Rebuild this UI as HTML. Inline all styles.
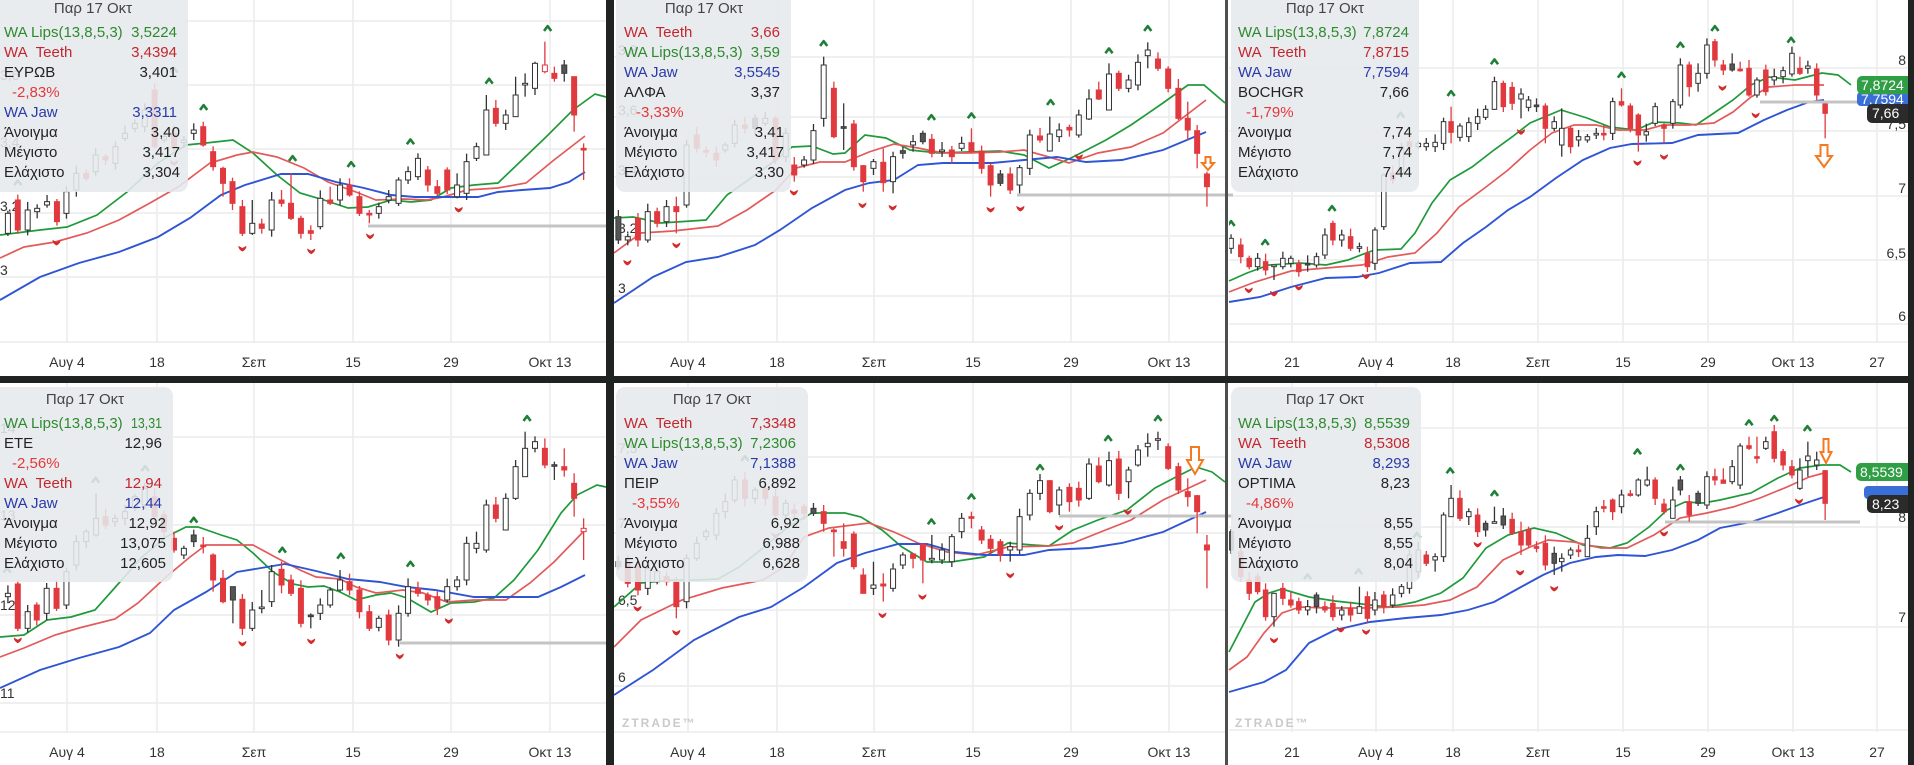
<!DOCTYPE html>
<html>
<head>
<meta charset="utf-8">
<style>
html,body{margin:0;padding:0;background:#fff;}
svg{display:block;}
text{font-family:"Liberation Sans","DejaVu Sans",sans-serif;}
.ax{font-size:14px;fill:#333;}
.lg{font-size:15px;}
.g{fill:#2f8a2f;} .r{fill:#c4262e;} .b{fill:#2a3aa8;} .k{fill:#222;} .p{fill:#e5383b;}
.grid{stroke:#ececec;stroke-width:1.5;fill:none;}
.lips{stroke:#1f9a3a;stroke-width:1.7;fill:none;}
.teeth{stroke:#e25a5a;stroke-width:1.7;fill:none;}
.jaw{stroke:#2f55d4;stroke-width:1.9;fill:none;}
.lvl{stroke:#c4c4c4;stroke-width:3;fill:none;}
.box{fill:#e6e9ed;opacity:0.88;}
.tag{font-size:14px;fill:#fff;}
.wm{font-size:12px;fill:#cacaca;font-weight:bold;letter-spacing:2px;}
.arr{fill:#fff;stroke:#f47a20;stroke-width:2;}
</style>
</head>
<body>
<svg id="s" width="1914" height="765" viewBox="0 0 1914 765" xmlns="http://www.w3.org/2000/svg">
<defs>
<clipPath id="cp0"><rect x="0" y="0" width="606" height="342"/></clipPath>
<clipPath id="cp1"><rect x="614" y="0" width="611" height="342"/></clipPath>
<clipPath id="cp2"><rect x="1229" y="0" width="679" height="342"/></clipPath>
<clipPath id="cp3"><rect x="0" y="383" width="606" height="349"/></clipPath>
<clipPath id="cp4"><rect x="614" y="383" width="611" height="349"/></clipPath>
<clipPath id="cp5"><rect x="1229" y="383" width="679" height="349"/></clipPath>
</defs>
<rect x="0" y="0" width="1914" height="765" fill="#fff"/>

<!-- GRID -->
<g class="grid">
<path d="M0 21H606M0 85H606M0 149H606M0 213H606M0 277H606M0 342H606"/>
<path d="M67 0V342M157 0V342M254 0V342M353 0V342M451 0V342M550 0V342"/>
<path d="M614 57H1225M614 117H1225M614 177H1225M614 236H1225M614 296H1225M614 342H1225"/>
<path d="M688 0V342M777 0V342M874 0V342M973 0V342M1071 0V342M1169 0V342"/>
<path d="M1229 68H1908M1229 131H1908M1229 196H1908M1229 260H1908M1229 324H1908M1229 342H1908"/>
<path d="M1292 0V342M1376 0V342M1453 0V342M1538 0V342M1623 0V342M1708 0V342M1793 0V342M1877 0V342"/>
<path d="M0 437H606M0 525H606M0 615H606M0 703H606M0 732H606"/>
<path d="M67 383V732M157 383V732M254 383V732M353 383V732M451 383V732M550 383V732"/>
<path d="M614 457H1225M614 533H1225M614 610H1225M614 686H1225M614 732H1225"/>
<path d="M688 383V732M777 383V732M874 383V732M973 383V732M1071 383V732M1169 383V732"/>
<path d="M1229 428H1908M1229 527H1908M1229 627H1908M1229 730H1908"/>
<path d="M1292 383V732M1376 383V732M1453 383V732M1538 383V732M1623 383V732M1708 383V732M1793 383V732M1877 383V732"/>
</g>

<!-- Y AXIS LABELS -->
<g class="ax">
<text x="0" y="80">3,6</text><text x="0" y="147">3,4</text><text x="0" y="211">3,2</text><text x="0" y="275">3</text>
<text x="618" y="55">3,8</text><text x="618" y="115">3,6</text><text x="618" y="175">3,4</text><text x="618" y="233">3,2</text><text x="618" y="293">3</text>
<text x="1906" y="65" text-anchor="end">8</text><text x="1906" y="129" text-anchor="end">7,5</text><text x="1906" y="193" text-anchor="end">7</text><text x="1906" y="258" text-anchor="end">6,5</text><text x="1906" y="321" text-anchor="end">6</text>
<text x="0" y="433">14</text><text x="0" y="520">13</text><text x="0" y="610">12</text><text x="0" y="698">11</text>
<text x="618" y="453">7,5</text><text x="618" y="528">7</text><text x="618" y="605">6,5</text><text x="618" y="682">6</text>
<text x="1906" y="522" text-anchor="end">8</text><text x="1906" y="622" text-anchor="end">7</text>
</g>

<!-- X AXIS LABELS -->
<g class="ax" text-anchor="middle">
<text x="67" y="367">Αυγ 4</text><text x="157" y="367">18</text><text x="254" y="367">Σεπ</text><text x="353" y="367">15</text><text x="451" y="367">29</text><text x="550" y="367">Οκτ 13</text>
<text x="688" y="367">Αυγ 4</text><text x="777" y="367">18</text><text x="874" y="367">Σεπ</text><text x="973" y="367">15</text><text x="1071" y="367">29</text><text x="1169" y="367">Οκτ 13</text>
<text x="1292" y="367">21</text><text x="1376" y="367">Αυγ 4</text><text x="1453" y="367">18</text><text x="1538" y="367">Σεπ</text><text x="1623" y="367">15</text><text x="1708" y="367">29</text><text x="1793" y="367">Οκτ 13</text><text x="1877" y="367">27</text>
<text x="67" y="757">Αυγ 4</text><text x="157" y="757">18</text><text x="254" y="757">Σεπ</text><text x="353" y="757">15</text><text x="451" y="757">29</text><text x="550" y="757">Οκτ 13</text>
<text x="688" y="757">Αυγ 4</text><text x="777" y="757">18</text><text x="874" y="757">Σεπ</text><text x="973" y="757">15</text><text x="1071" y="757">29</text><text x="1169" y="757">Οκτ 13</text>
<text x="1292" y="757">21</text><text x="1376" y="757">Αυγ 4</text><text x="1453" y="757">18</text><text x="1538" y="757">Σεπ</text><text x="1623" y="757">15</text><text x="1708" y="757">29</text><text x="1793" y="757">Οκτ 13</text><text x="1877" y="757">27</text>
</g>

<text class="wm" x="622" y="727">ZTRADE™</text>
<text class="wm" x="1235" y="727">ZTRADE™</text>

<!-- MA LINES -->
<polyline class="lips" points="0,235 40,230 67,227 97,215 127,192 158,163 186,145 206,143 233,140 253,153 277,175 300,193 324,200 348,208 368,207 391,200 411,202 431,200 451,188 474,185 498,183 522,160 546,137 573,110 595,94 606,97"/>
<polyline class="teeth" points="0,258 24,247 55,242 87,233 119,220 150,203 178,187 210,163 237,155 253,152 277,157 304,168 328,182 356,192 376,200 403,199 427,200 443,197 467,190 498,188 526,183 554,160 585,136"/>
<polyline class="jaw" points="0,300 40,277 79,263 119,252 158,237 190,218 221,195 245,185 281,174 308,174 336,182 364,188 391,195 415,197 443,197 478,197 498,192 522,190 550,188 569,182 585,172"/>

<polyline class="lips" points="614,218 633,217 661,223 706,220 727,195 751,178 776,160 792,147 812,146 833,154 845,153 865,135 886,138 910,150 939,153 967,152 1000,151 1024,155 1049,168 1073,157 1106,140 1131,125 1163,103 1188,85 1204,85 1225,103"/>
<polyline class="teeth" points="614,253 641,233 673,231 718,226 747,210 776,190 796,168 820,162 845,162 869,152 894,144 918,148 943,153 967,153 1000,152 1024,150 1049,157 1069,163 1098,153 1131,147 1163,133 1206,100"/>
<polyline class="jaw" points="614,303 653,277 686,262 718,257 755,245 780,230 812,208 845,190 869,183 894,180 918,165 943,163 967,163 992,163 1024,160 1057,157 1086,162 1122,160 1163,150 1206,132"/>

<polyline class="lips" points="1229,281 1247,273 1269,265 1300,263 1326,265 1348,260 1366,253 1375,250 1401,249 1415,233 1432,203 1450,180 1472,167 1494,150 1512,137 1530,123 1561,110 1587,118 1610,127 1636,130 1654,122 1680,123 1696,125 1711,115 1733,100 1751,85 1769,77 1795,80 1822,73 1838,75 1851,85"/>
<polyline class="teeth" points="1229,292 1255,282 1291,271 1326,268 1362,265 1388,257 1415,253 1437,233 1459,207 1486,187 1508,170 1530,150 1552,133 1574,125 1596,125 1618,130 1645,130 1663,125 1689,125 1714,123 1733,112 1751,97 1769,87 1795,85 1824,85"/>
<polyline class="jaw" points="1229,302 1260,297 1291,287 1326,278 1357,277 1379,273 1410,263 1441,262 1463,243 1486,227 1508,210 1530,197 1556,178 1583,160 1610,148 1632,144 1672,143 1698,135 1738,133 1764,120 1787,110 1809,102 1824,100"/>

<polyline class="lips" points="0,637 24,635 47,620 71,617 95,610 119,583 142,557 166,537 186,527 198,527 221,535 237,540 253,553 273,572 293,584 308,587 324,586 340,592 356,600 376,595 391,593 407,598 431,612 451,603 474,602 494,598 514,580 538,550 561,513 577,495 597,485 606,487"/>
<polyline class="teeth" points="0,657 24,648 55,635 79,628 115,619 138,603 166,577 190,557 206,545 253,545 277,558 300,570 316,577 340,579 356,587 376,593 403,590 423,593 447,602 474,600 506,600 530,583 554,562 585,530"/>
<polyline class="jaw" points="0,688 40,670 79,658 119,647 150,633 174,610 206,592 237,572 261,568 285,564 316,571 348,579 380,582 407,587 435,590 474,597 506,597 538,597 561,587 585,575"/>

<polyline class="lips" points="614,607 641,583 673,580 698,580 718,579 739,567 763,548 788,527 812,513 845,513 861,517 882,530 902,547 927,562 951,562 984,557 1008,543 1033,545 1049,546 1073,530 1098,520 1127,510 1155,488 1176,477 1196,467 1212,472 1225,482"/>
<polyline class="teeth" points="614,647 641,620 682,600 722,588 763,580 784,567 804,537 829,528 869,523 894,532 918,543 947,552 976,555 1008,547 1049,546 1073,543 1098,533 1131,520 1163,500 1206,480"/>
<polyline class="jaw" points="614,695 653,670 694,640 739,617 771,607 804,587 837,563 865,553 898,544 927,544 955,552 984,555 1024,555 1049,550 1090,548 1122,543 1163,532 1206,512"/>

<polyline class="lips" points="1229,652 1242,627 1255,602 1269,593 1282,589 1309,597 1335,601 1362,604 1388,607 1415,602 1441,593 1463,578 1486,548 1508,535 1534,528 1556,533 1583,545 1610,548 1627,543 1649,527 1667,510 1685,502 1703,503 1720,500 1751,493 1778,478 1800,468 1822,465 1840,465 1851,472"/>
<polyline class="teeth" points="1229,670 1247,657 1264,633 1282,613 1300,607 1326,608 1362,608 1397,607 1424,605 1450,600 1477,587 1503,560 1530,547 1548,540 1574,542 1601,548 1627,548 1654,535 1680,518 1707,513 1733,507 1760,498 1787,487 1809,477 1824,473"/>
<polyline class="jaw" points="1229,692 1264,682 1286,670 1309,643 1335,630 1370,622 1406,618 1441,615 1468,610 1494,602 1521,587 1543,575 1570,563 1596,557 1618,555 1645,556 1672,550 1698,540 1720,528 1751,522 1778,513 1800,505 1824,497"/>

<!-- LEVEL LINES -->
<path class="lvl" d="M368 226H611M1017 195H1233M1760 102H1862M400 643H613M1059 516H1233M1665 522H1860"/>

<!-- CANDLES (generated) -->
<g id="candles"></g>

<!-- ORANGE ARROWS -->
<path class="arr" d="M1205.5 157H1210.5V163H1214L1208 170L1202 163H1205.5Z"/>
<path class="arr" d="M1820.5 145H1827.5V156H1832L1824 167L1816 156H1820.5Z"/>
<path class="arr" d="M1191 447H1199V460H1203L1195 474L1187 460H1191Z"/>
<path class="arr" d="M1823.5 439H1828.5V452H1831.5L1826 463L1820.5 452H1823.5Z"/>

<!-- LEGEND BOXES -->
<rect class="box" x="-10" y="-10" width="198" height="202" rx="9"/>
<rect class="box" x="616" y="-10" width="175" height="202" rx="9"/>
<rect class="box" x="1231" y="-10" width="188" height="202" rx="9"/>
<rect class="box" x="-10" y="387" width="183" height="195" rx="9"/>
<rect class="box" x="616" y="387" width="192" height="195" rx="9"/>
<rect class="box" x="1231" y="387" width="190" height="195" rx="9"/>

<!-- LEGEND TEXT P1 -->
<g class="lg">
<text x="93" y="13" text-anchor="middle" fill="#444">Παρ 17 Οκτ</text>
<text class="g" x="4" y="37">WA Lips(13,8,5,3)</text><text class="g" x="177" y="37" text-anchor="end">3,5224</text>
<text class="r" x="4" y="57">WA&#160; Teeth</text><text class="r" x="177" y="57" text-anchor="end">3,4394</text>
<text class="k" x="4" y="77">ΕΥΡΩΒ</text><text class="k" x="177" y="77" text-anchor="end">3,401</text>
<text class="p" x="12" y="97">-2,83%</text>
<text class="b" x="4" y="117">WA Jaw</text><text class="b" x="177" y="117" text-anchor="end">3,3311</text>
<text class="k" x="4" y="137">Άνοιγμα</text><text class="k" x="180" y="137" text-anchor="end">3,40</text>
<text class="k" x="4" y="157">Μέγιστο</text><text class="k" x="180" y="157" text-anchor="end">3,417</text>
<text class="k" x="4" y="177">Ελάχιστο</text><text class="k" x="180" y="177" text-anchor="end">3,304</text>
</g>
<!-- P2 -->
<g class="lg">
<text x="704" y="13" text-anchor="middle" fill="#444">Παρ 17 Οκτ</text>
<text class="r" x="624" y="37">WA&#160; Teeth</text><text class="r" x="780" y="37" text-anchor="end">3,66</text>
<text class="g" x="624" y="57">WA Lips(13,8,5,3)</text><text class="g" x="780" y="57" text-anchor="end">3,59</text>
<text class="b" x="624" y="77">WA Jaw</text><text class="b" x="780" y="77" text-anchor="end">3,5545</text>
<text class="k" x="624" y="97">ΑΛΦΑ</text><text class="k" x="780" y="97" text-anchor="end">3,37</text>
<text class="p" x="636" y="117">-3,33%</text>
<text class="k" x="624" y="137">Άνοιγμα</text><text class="k" x="784" y="137" text-anchor="end">3,41</text>
<text class="k" x="624" y="157">Μέγιστο</text><text class="k" x="784" y="157" text-anchor="end">3,417</text>
<text class="k" x="624" y="177">Ελάχιστο</text><text class="k" x="784" y="177" text-anchor="end">3,30</text>
</g>
<!-- P3 -->
<g class="lg">
<text x="1325" y="13" text-anchor="middle" fill="#444">Παρ 17 Οκτ</text>
<text class="g" x="1238" y="37">WA Lips(13,8,5,3)</text><text class="g" x="1409" y="37" text-anchor="end">7,8724</text>
<text class="r" x="1238" y="57">WA&#160; Teeth</text><text class="r" x="1409" y="57" text-anchor="end">7,8715</text>
<text class="b" x="1238" y="77">WA Jaw</text><text class="b" x="1409" y="77" text-anchor="end">7,7594</text>
<text class="k" x="1238" y="97">BOCHGR</text><text class="k" x="1409" y="97" text-anchor="end">7,66</text>
<text class="p" x="1246" y="117">-1,79%</text>
<text class="k" x="1238" y="137">Άνοιγμα</text><text class="k" x="1412" y="137" text-anchor="end">7,74</text>
<text class="k" x="1238" y="157">Μέγιστο</text><text class="k" x="1412" y="157" text-anchor="end">7,74</text>
<text class="k" x="1238" y="177">Ελάχιστο</text><text class="k" x="1412" y="177" text-anchor="end">7,44</text>
</g>
<!-- P4 -->
<g class="lg">
<text x="85" y="404" text-anchor="middle" fill="#444">Παρ 17 Οκτ</text>
<text class="g" x="4" y="428">WA Lips(13,8,5,3)</text><text class="g" x="131" y="428" textLength="31" lengthAdjust="spacingAndGlyphs">13,31</text>
<text class="k" x="4" y="448">ΕΤΕ</text><text class="k" x="162" y="448" text-anchor="end">12,96</text>
<text class="p" x="12" y="468">-2,56%</text>
<text class="r" x="4" y="488">WA&#160; Teeth</text><text class="r" x="162" y="488" text-anchor="end">12,94</text>
<text class="b" x="4" y="508">WA Jaw</text><text class="b" x="162" y="508" text-anchor="end">12,44</text>
<text class="k" x="4" y="528">Άνοιγμα</text><text class="k" x="166" y="528" text-anchor="end">12,92</text>
<text class="k" x="4" y="548">Μέγιστο</text><text class="k" x="166" y="548" text-anchor="end">13,075</text>
<text class="k" x="4" y="568">Ελάχιστο</text><text class="k" x="166" y="568" text-anchor="end">12,605</text>
</g>
<!-- P5 -->
<g class="lg">
<text x="712" y="404" text-anchor="middle" fill="#444">Παρ 17 Οκτ</text>
<text class="r" x="624" y="428">WA&#160; Teeth</text><text class="r" x="796" y="428" text-anchor="end">7,3348</text>
<text class="g" x="624" y="448">WA Lips(13,8,5,3)</text><text class="g" x="796" y="448" text-anchor="end">7,2306</text>
<text class="b" x="624" y="468">WA Jaw</text><text class="b" x="796" y="468" text-anchor="end">7,1388</text>
<text class="k" x="624" y="488">ΠΕΙΡ</text><text class="k" x="796" y="488" text-anchor="end">6,892</text>
<text class="p" x="632" y="508">-3,55%</text>
<text class="k" x="624" y="528">Άνοιγμα</text><text class="k" x="800" y="528" text-anchor="end">6,92</text>
<text class="k" x="624" y="548">Μέγιστο</text><text class="k" x="800" y="548" text-anchor="end">6,988</text>
<text class="k" x="624" y="568">Ελάχιστο</text><text class="k" x="800" y="568" text-anchor="end">6,628</text>
</g>
<!-- P6 -->
<g class="lg">
<text x="1325" y="404" text-anchor="middle" fill="#444">Παρ 17 Οκτ</text>
<text class="g" x="1238" y="428">WA Lips(13,8,5,3)</text><text class="g" x="1410" y="428" text-anchor="end">8,5539</text>
<text class="r" x="1238" y="448">WA&#160; Teeth</text><text class="r" x="1410" y="448" text-anchor="end">8,5308</text>
<text class="b" x="1238" y="468">WA Jaw</text><text class="b" x="1410" y="468" text-anchor="end">8,293</text>
<text class="k" x="1238" y="488">OPTIMA</text><text class="k" x="1410" y="488" text-anchor="end">8,23</text>
<text class="p" x="1246" y="508">-4,86%</text>
<text class="k" x="1238" y="528">Άνοιγμα</text><text class="k" x="1413" y="528" text-anchor="end">8,55</text>
<text class="k" x="1238" y="548">Μέγιστο</text><text class="k" x="1413" y="548" text-anchor="end">8,55</text>
<text class="k" x="1238" y="568">Ελάχιστο</text><text class="k" x="1413" y="568" text-anchor="end">8,04</text>
</g>

<!-- PRICE TAGS -->
<rect x="1857" y="92" width="57" height="14" rx="4" fill="#3b6fd8"/>
<text class="tag" x="1861" y="104">7,7594</text>
<rect x="1857" y="76" width="57" height="18" rx="5" fill="#2f9e44"/>
<text class="tag" x="1861" y="90">7,8724</text>
<rect x="1867" y="104" width="47" height="19" rx="5" fill="#2b2b2b"/>
<text class="tag" x="1872" y="118">7,66</text>

<rect x="1864" y="486" width="50" height="13" rx="4" fill="#3b6fd8"/>
<rect x="1856" y="463" width="58" height="18" rx="5" fill="#2f9e44"/>
<text class="tag" x="1860" y="477">8,5539</text>
<rect x="1867" y="495" width="47" height="18" rx="5" fill="#2b2b2b"/>
<text class="tag" x="1872" y="509">8,23</text>

<!-- DIVIDERS -->
<rect x="606" y="0" width="8" height="765" fill="#1f2423"/>
<rect x="1225" y="0" width="3" height="765" fill="#4d4f4f"/>
<rect x="0" y="376" width="1914" height="7" fill="#1f2423"/>
<rect x="1908" y="0" width="6" height="765" fill="#1f2423"/>
</svg>

<script>
(function(){
var NS='http://www.w3.org/2000/svg';
function el(t,a,p){var e=document.createElementNS(NS,t);for(var k in a)e.setAttribute(k,a[k]);p.appendChild(e);return e;}
var P=[
{ox:0,oy:0,sx:2.529,cw:5,c:[[20,640,700,'w'],[45,600,690,'r'],[70,630,690,'w'],[94,625,635,'w'],[119,605,615,'w'],[144,605,665,'r'],[168,575,640,'w'],[193,520,570,'w'],[218,520,535,'r'],[242,465,515,'w'],[267,470,480,'r'],[292,440,490,'w'],[316,400,415,'w'],[341,370,385,'w'],[366,330,380,'w'],[391,270,440,'r',250,445],[415,410,420,'w'],[440,400,440,'r'],[465,420,428,'w'],[490,390,400,'w'],[514,380,435,'r',365,440],[539,455,500,'r'],[564,505,550,'r',500,590],[588,545,610,'r'],[613,620,700,'r'],[638,670,700,'w',600,705],[662,672,685,'r'],[687,600,690,'w'],[712,600,610,'r',570,620],[736,610,655,'r',520,660],[761,655,700,'r'],[786,692,700,'r'],[810,595,680,'w'],[835,600,610,'r',560,615],[860,555,600,'w'],[884,555,585,'r',535,590],[909,590,640,'r'],[934,640,645,'r',630,670],[958,620,640,'w'],[983,590,600,'w',570,610],[1008,540,610,'w'],[1032,515,540,'w'],[1057,475,530,'w',460,540],[1082,510,555,'r'],[1106,560,580,'r'],[1131,510,570,'r'],[1156,555,590,'w',520,595],[1180,485,580,'w'],[1205,440,475,'w'],[1230,330,465,'w',285,465],[1254,325,370,'r',300,380],[1279,345,370,'w'],[1304,285,350,'w',230,350],[1328,250,255,'w',220,290],[1353,190,265,'w',185,285],[1378,195,215,'h',125,220],[1402,220,235,'r',200,245],[1427,195,220,'k',180,245],[1452,230,345,'r',230,395],[1476,445,450,'r',430,540]],
u:[[515,322],[740,475],[888,493],[1038,425],[1237,243],[1385,85],[45,548],[440,210]],d:[[143,727],[613,745],[787,753],[936,708],[1160,628],[440,488]]},
{ox:600,oy:0,sx:2.45,cw:5,c:[[45,650,720,'k'],[68,710,720,'w'],[93,655,720,'r'],[117,635,720,'w'],[140,635,670,'r'],[163,620,665,'w'],[187,620,635,'r',590,700],[212,435,615,'w'],[237,405,445,'r'],[260,452,456,'r'],[285,460,480,'r'],[307,435,450,'w'],[330,375,430,'w'],[355,375,385,'r'],[380,355,385,'k'],[405,355,370,'w'],[430,355,480,'r'],[455,400,470,'w'],[476,495,525,'r'],[500,480,495,'w'],[523,392,480,'w'],[548,195,355,'w',170,380],[573,265,410,'r',245,415],[597,380,385,'k',310,450],[622,372,500,'r'],[645,497,545,'r',495,575],[670,485,505,'w'],[694,487,548,'r',445,575],[718,470,545,'w',455,580],[742,452,460,'k'],[767,425,435,'w'],[791,400,425,'k'],[813,418,460,'r'],[838,450,455,'w'],[862,450,470,'r'],[886,430,445,'w'],[910,428,455,'r',385,460],[935,453,505,'r'],[957,497,555,'r',490,590],[981,522,550,'k'],[1005,522,570,'r'],[1028,503,555,'w',495,580],[1053,405,505,'w'],[1078,408,420,'r'],[1102,402,453,'w',350,455],[1125,390,410,'w'],[1150,382,390,'r'],[1173,345,405,'w'],[1198,297,357,'w',268,360],[1222,270,297,'r',245,300],[1247,222,330,'w',190,330],[1271,220,265,'r'],[1295,240,265,'w'],[1318,187,255,'w'],[1342,150,167,'w',127,205],[1367,177,205,'r'],[1392,207,265,'r'],[1417,265,355,'r',237,360],[1440,355,390,'r',305,420],[1463,392,460,'r',375,505],[1487,522,560,'r',515,620]],
u:[[548,130],[812,352],[910,347],[1104,307],[1247,152],[1342,85]],d:[[67,787],[187,735],[475,577],[643,615],[717,622],[957,628],[1030,625],[1173,470]]},
{ox:1220,oy:0,sx:2.259,cw:4.5,c:[[25,715,745,'w'],[47,735,770,'r'],[66,775,800,'r'],[85,775,800,'w'],[103,785,810,'r'],[122,795,800,'w',795,840],[142,775,800,'w'],[160,775,790,'w'],[178,790,815,'r',780,830],[198,790,795,'k'],[218,770,795,'w'],[237,705,765,'w'],[255,670,720,'r'],[275,705,720,'w'],[295,710,745,'r'],[315,740,745,'w'],[333,760,800,'r'],[350,690,790,'w'],[370,525,680,'w',520,690],[390,520,540,'r'],[410,440,520,'w'],[428,425,440,'r'],[448,430,440,'w'],[466,430,440,'w'],[486,427,440,'w'],[505,365,430,'w'],[522,365,397,'r',320,430],[542,378,412,'w'],[562,368,410,'w'],[582,350,370,'w'],[600,328,352,'w'],[620,245,328,'w',230,330],[640,250,320,'r'],[660,262,310,'r'],[680,282,297,'w',265,355],[697,300,322,'w'],[715,315,320,'k'],[735,318,385,'r',310,430],[755,365,385,'w'],[772,385,435,'w',325,470],[792,385,440,'r',380,460],[810,410,420,'w'],[830,410,420,'w'],[850,400,405,'w'],[867,400,405,'r'],[887,305,400,'w'],[907,305,315,'r',265,320],[927,318,385,'r'],[945,345,405,'r',340,455],[963,395,405,'w'],[983,320,370,'w'],[1003,375,385,'r',370,430],[1023,305,370,'w'],[1040,195,315,'w',175,325],[1060,195,260,'r',185,290],[1080,220,250,'w',190,275],[1100,135,220,'w'],[1118,125,180,'r'],[1137,195,210,'r',180,225],[1157,192,210,'k',160,215],[1175,208,212,'r',185,215],[1195,205,285,'r',180,290],[1213,240,285,'w'],[1233,210,275,'r'],[1252,230,240,'w'],[1272,212,230,'w'],[1292,160,222,'w'],[1310,205,220,'r',170,225],[1328,198,205,'w'],[1348,207,285,'r',190,300],[1367,312,340,'r',310,415]],
u:[[25,670],[102,727],[253,625],[522,280],[620,185],[907,225],[1040,135],[1118,85],[1290,120],[408,345]],d:[[65,870],[122,880],[178,862],[330,828],[680,395],[943,488],[1003,470],[1135,263],[1210,345]]},
{ox:0,oy:380,sx:2.529,cw:5,c:[[20,640,650,'w'],[45,612,745,'r'],[70,695,745,'w'],[93,675,720,'r'],[118,625,700,'w'],[143,625,685,'r'],[168,575,675,'w'],[193,485,555,'w'],[218,455,485,'w'],[243,415,465,'w',340,470],[267,410,435,'r'],[291,415,425,'w'],[316,395,415,'w'],[341,350,385,'w'],[366,325,375,'w'],[391,350,410,'r'],[415,405,455,'r'],[440,475,510,'r'],[465,505,525,'w'],[490,465,485,'k'],[514,495,500,'r'],[539,525,600,'r',520,635],[564,595,665,'r',570,670],[589,620,660,'k',620,730],[613,658,745,'r'],[638,690,745,'w'],[662,682,685,'w',630,700],[687,575,665,'w'],[712,568,615,'r',545,640],[736,600,640,'r'],[761,625,730,'r'],[786,705,710,'k',700,745],[810,675,700,'w'],[835,630,675,'w'],[860,600,630,'w',570,635],[884,605,630,'r'],[909,630,695,'r'],[934,695,745,'r'],[958,715,742,'w'],[983,705,780,'r'],[1008,700,780,'w'],[1032,620,700,'w',595,710],[1057,625,640,'r',605,650],[1082,645,660,'r'],[1106,650,685,'r'],[1131,620,660,'w'],[1156,600,620,'w'],[1180,490,600,'w'],[1205,490,505,'w',455,520],[1230,375,510,'w'],[1254,375,415,'r'],[1279,355,450,'w',340,450],[1304,260,355,'w',240,360],[1328,205,290,'w',155,290],[1353,185,205,'w'],[1378,205,255,'r',175,265],[1402,255,258,'k',245,300],[1427,260,270,'r',205,290],[1452,310,355,'r',280,410],[1476,445,455,'h',415,540]],
u:[[490,420],[714,510],[862,528],[1038,552],[1333,115],[18,570],[242,300],[367,265]],d:[[45,780],[613,790],[787,783],[1011,828],[1135,722]]},
{ox:600,oy:380,sx:2.45,cw:5,c:[[45,545,560,'k'],[68,550,610,'r'],[93,555,630,'r'],[117,565,625,'w'],[140,575,605,'w'],[163,590,605,'r'],[187,605,680,'r',590,715],[212,535,665,'w'],[237,490,535,'w'],[260,455,470,'w'],[285,400,465,'w'],[307,365,395,'w'],[330,300,360,'w'],[355,300,355,'r',275,380],[380,330,355,'w'],[405,325,355,'r'],[430,350,405,'r'],[455,370,405,'w'],[476,390,400,'r'],[500,380,400,'r'],[523,385,400,'k'],[548,395,430,'r',375,455],[573,450,455,'r',445,530],[597,485,505,'r',430,530],[622,462,560,'r'],[645,585,640,'r',565,640],[670,615,625,'w',545,645],[694,612,618,'r',580,665],[718,567,625,'w',550,635],[742,525,555,'w'],[767,522,535,'r',520,565],[791,492,540,'r',490,610],[813,535,540,'w',465,550],[838,510,540,'w'],[862,470,545,'w'],[886,415,455,'w'],[910,410,415,'r',395,445],[935,450,480,'r'],[957,478,505,'r',465,525],[981,485,525,'r'],[1005,500,510,'w',485,545],[1028,410,510,'w'],[1053,340,405,'w'],[1078,302,340,'w'],[1102,302,395,'r',300,400],[1125,330,375,'w',320,405],[1150,322,365,'r',310,395],[1173,325,360,'r',305,380],[1198,252,355,'w',235,360],[1222,258,305,'r',232,310],[1247,242,315,'w',215,320],[1271,237,340,'r'],[1295,270,305,'w',260,355],[1318,210,255,'w',195,260],[1342,190,200,'w',160,230],[1367,177,180,'w',155,210],[1392,200,265,'r',190,270],[1417,260,330,'r'],[1440,335,350,'r',295,380],[1463,347,395,'r',345,460],[1487,495,510,'r',465,625]],
u:[[812,425],[910,350],[1078,262],[1245,175],[1367,115],[355,235]],d:[[92,685],[187,757],[430,465],[692,705],[790,650],[1005,585],[1125,442],[1293,395]]},
{ox:1220,oy:380,sx:2.259,cw:4.5,c:[[25,455,510,'k'],[47,515,590,'r'],[66,600,640,'r'],[85,590,635,'r'],[103,630,710,'r'],[122,640,710,'w',640,740],[142,625,655,'r'],[160,660,675,'r'],[178,665,690,'r'],[198,680,690,'w'],[218,645,680,'k'],[237,680,690,'r'],[255,670,710,'r'],[275,690,705,'w'],[295,685,705,'r'],[315,680,700,'w',620,700],[333,650,715,'r'],[350,660,690,'w'],[370,645,680,'r'],[390,645,675,'w'],[410,620,640,'w'],[428,525,625,'w'],[448,510,575,'w'],[466,525,550,'r'],[486,530,540,'w',520,575],[505,405,530,'w'],[522,355,410,'w',315,410],[542,355,415,'r'],[562,395,410,'w',385,435],[582,405,455,'r'],[600,430,450,'k'],[620,425,430,'w',380,430],[640,408,435,'k'],[660,418,460,'r',398,465],[680,455,495,'r',425,525],[697,448,495,'r'],[715,500,505,'r'],[735,490,555,'r'],[755,520,550,'k',500,585],[772,535,545,'w',520,575],[792,510,525,'w'],[810,510,515,'r'],[830,475,530,'w',435,530],[850,395,440,'w',380,465],[867,380,385,'r'],[887,360,395,'r',355,420],[907,345,380,'w'],[927,343,345,'r',330,350],[945,300,345,'w',295,350],[965,300,315,'w',260,320],[983,300,355,'r'],[1003,372,395,'r'],[1023,360,415,'w',320,415],[1040,300,330,'k'],[1060,365,405,'r'],[1080,340,370,'k'],[1100,290,375,'w'],[1118,290,300,'r'],[1137,300,310,'r',265,310],[1157,260,305,'w'],[1175,198,315,'w'],[1195,197,205,'r',170,210],[1213,230,235,'r',170,250],[1233,185,205,'w',170,210],[1252,155,235,'r'],[1272,215,255,'r'],[1292,260,285,'r',240,295],[1310,270,325,'w',235,330],[1328,228,242,'w',185,290],[1348,240,255,'w',215,270],[1367,272,370,'r',270,420]],
u:[[520,272],[620,340],[943,215],[1040,262],[1195,128],[1252,115],[1327,145],[198,590],[313,575],[445,465]],d:[[122,780],[273,748],[330,755],[582,493],[678,577],[755,625],[1003,460],[1308,363]]}
];
var root=document.getElementById('candles');
var RED='#e0393e';
P.forEach(function(p,pi){
  var g=el('g',{'clip-path':'url(#cp'+pi+')'},root);
  p.c.forEach(function(c,i){
    var x=p.ox+c[0]/p.sx;
    var t=p.oy+c[1]/3,b=p.oy+c[2]/3;
    if(b-t<1.6){var m=(t+b)/2;t=m-0.8;b=m+0.8;}
    var j=(i*7+pi*3)%5, j2=(i*5+pi)%4;
    var hi=p.oy+((c[4]!==undefined)?c[4]:c[1]-8-j*4)/3;
    var lo=p.oy+((c[5]!==undefined)?c[5]:c[2]+8+j2*4)/3;
    var ty=c[3],fill,stroke,wick;
    if(ty==='r'){fill=RED;stroke=RED;wick=RED;}
    else if(ty==='h'){fill='#fff';stroke=RED;wick=RED;}
    else if(ty==='k'){fill='#555';stroke='#3a3a3a';wick='#3a3a3a';}
    else {fill='#fff';stroke='#333';wick='#333';}
    el('line',{x1:x,x2:x,y1:hi,y2:lo,stroke:wick,'stroke-width':1.3},g);
    el('rect',{x:x-p.cw/2,y:t,width:p.cw,height:b-t,fill:fill,stroke:stroke,'stroke-width':1},g);
  });
  p.u.forEach(function(f){
    var x=p.ox+f[0]/p.sx,y=p.oy+f[1]/3;
    el('path',{d:'M'+(x-3.6)+' '+(y+2.6)+'L'+x+' '+(y-2.2)+'L'+(x+3.6)+' '+(y+2.6),fill:'none',stroke:'#1e7f36','stroke-width':2.6,'stroke-linejoin':'round'},g);
  });
  p.d.forEach(function(f){
    var x=p.ox+f[0]/p.sx,y=p.oy+f[1]/3;
    el('path',{d:'M'+(x-4)+' '+(y-2.5)+'Q'+(x-4.2)+' '+(y+1)+' '+x+' '+(y+3.2)+'Q'+(x+4.2)+' '+(y+1)+' '+(x+4)+' '+(y-2.5)+'L'+x+' '+(y-0.3)+'Z',fill:'#d42a2a'},g);
  });
});
})();
</script>
</body>
</html>
